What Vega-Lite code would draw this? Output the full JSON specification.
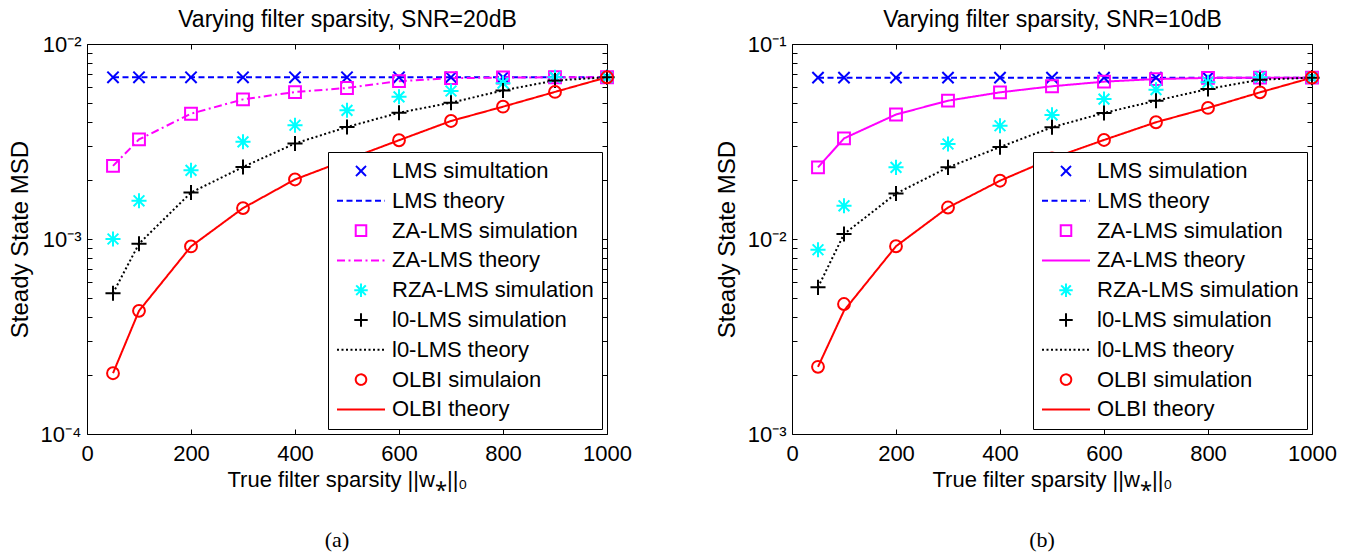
{
  "$schema": "https://vega.github.io/schema/vega-lite/v6.json",
  "background": "white",
  "padding": {"left": 8, "top": 8, "right": 5, "bottom": 5},
  "datasets": {
    "snr20": [
      {"series": "LMS simultation", "kind": "sim", "x": 50, "msd": 0.00675},
      {"series": "LMS simultation", "kind": "sim", "x": 100, "msd": 0.00675},
      {"series": "LMS simultation", "kind": "sim", "x": 200, "msd": 0.00675},
      {"series": "LMS simultation", "kind": "sim", "x": 300, "msd": 0.00675},
      {"series": "LMS simultation", "kind": "sim", "x": 400, "msd": 0.00675},
      {"series": "LMS simultation", "kind": "sim", "x": 500, "msd": 0.00675},
      {"series": "LMS simultation", "kind": "sim", "x": 600, "msd": 0.00675},
      {"series": "LMS simultation", "kind": "sim", "x": 700, "msd": 0.00675},
      {"series": "LMS simultation", "kind": "sim", "x": 800, "msd": 0.00675},
      {"series": "LMS simultation", "kind": "sim", "x": 900, "msd": 0.00675},
      {"series": "LMS simultation", "kind": "sim", "x": 1000, "msd": 0.00675},
      {"series": "LMS theory", "kind": "theory", "x": 50, "msd": 0.00675},
      {"series": "LMS theory", "kind": "theory", "x": 100, "msd": 0.00675},
      {"series": "LMS theory", "kind": "theory", "x": 200, "msd": 0.00675},
      {"series": "LMS theory", "kind": "theory", "x": 300, "msd": 0.00675},
      {"series": "LMS theory", "kind": "theory", "x": 400, "msd": 0.00675},
      {"series": "LMS theory", "kind": "theory", "x": 500, "msd": 0.00675},
      {"series": "LMS theory", "kind": "theory", "x": 600, "msd": 0.00675},
      {"series": "LMS theory", "kind": "theory", "x": 700, "msd": 0.00675},
      {"series": "LMS theory", "kind": "theory", "x": 800, "msd": 0.00675},
      {"series": "LMS theory", "kind": "theory", "x": 900, "msd": 0.00675},
      {"series": "LMS theory", "kind": "theory", "x": 1000, "msd": 0.00675},
      {"series": "ZA-LMS simulation", "kind": "sim", "x": 50, "msd": 0.00237},
      {"series": "ZA-LMS simulation", "kind": "sim", "x": 100, "msd": 0.00324},
      {"series": "ZA-LMS simulation", "kind": "sim", "x": 200, "msd": 0.00439},
      {"series": "ZA-LMS simulation", "kind": "sim", "x": 300, "msd": 0.0052},
      {"series": "ZA-LMS simulation", "kind": "sim", "x": 400, "msd": 0.00567},
      {"series": "ZA-LMS simulation", "kind": "sim", "x": 500, "msd": 0.00595},
      {"series": "ZA-LMS simulation", "kind": "sim", "x": 600, "msd": 0.00645},
      {"series": "ZA-LMS simulation", "kind": "sim", "x": 700, "msd": 0.00668},
      {"series": "ZA-LMS simulation", "kind": "sim", "x": 800, "msd": 0.00673},
      {"series": "ZA-LMS simulation", "kind": "sim", "x": 900, "msd": 0.00675},
      {"series": "ZA-LMS simulation", "kind": "sim", "x": 1000, "msd": 0.00675},
      {"series": "ZA-LMS theory", "kind": "theory", "x": 50, "msd": 0.00237},
      {"series": "ZA-LMS theory", "kind": "theory", "x": 100, "msd": 0.00324},
      {"series": "ZA-LMS theory", "kind": "theory", "x": 200, "msd": 0.00439},
      {"series": "ZA-LMS theory", "kind": "theory", "x": 300, "msd": 0.0052},
      {"series": "ZA-LMS theory", "kind": "theory", "x": 400, "msd": 0.00567},
      {"series": "ZA-LMS theory", "kind": "theory", "x": 500, "msd": 0.00595},
      {"series": "ZA-LMS theory", "kind": "theory", "x": 600, "msd": 0.00645},
      {"series": "ZA-LMS theory", "kind": "theory", "x": 700, "msd": 0.00668},
      {"series": "ZA-LMS theory", "kind": "theory", "x": 800, "msd": 0.00673},
      {"series": "ZA-LMS theory", "kind": "theory", "x": 900, "msd": 0.00675},
      {"series": "ZA-LMS theory", "kind": "theory", "x": 1000, "msd": 0.00675},
      {"series": "RZA-LMS simulation", "kind": "sim", "x": 50, "msd": 0.001},
      {"series": "RZA-LMS simulation", "kind": "sim", "x": 100, "msd": 0.00157},
      {"series": "RZA-LMS simulation", "kind": "sim", "x": 200, "msd": 0.00225},
      {"series": "RZA-LMS simulation", "kind": "sim", "x": 300, "msd": 0.00315},
      {"series": "RZA-LMS simulation", "kind": "sim", "x": 400, "msd": 0.00383},
      {"series": "RZA-LMS simulation", "kind": "sim", "x": 500, "msd": 0.00457},
      {"series": "RZA-LMS simulation", "kind": "sim", "x": 600, "msd": 0.00536},
      {"series": "RZA-LMS simulation", "kind": "sim", "x": 700, "msd": 0.00574},
      {"series": "RZA-LMS simulation", "kind": "sim", "x": 800, "msd": 0.0063},
      {"series": "RZA-LMS simulation", "kind": "sim", "x": 900, "msd": 0.00675},
      {"series": "RZA-LMS simulation", "kind": "sim", "x": 1000, "msd": 0.00675},
      {"series": "l0-LMS simulation", "kind": "sim", "x": 50, "msd": 0.000527},
      {"series": "l0-LMS simulation", "kind": "sim", "x": 100, "msd": 0.000946},
      {"series": "l0-LMS simulation", "kind": "sim", "x": 200, "msd": 0.00173},
      {"series": "l0-LMS simulation", "kind": "sim", "x": 300, "msd": 0.00234},
      {"series": "l0-LMS simulation", "kind": "sim", "x": 400, "msd": 0.00309},
      {"series": "l0-LMS simulation", "kind": "sim", "x": 500, "msd": 0.00375},
      {"series": "l0-LMS simulation", "kind": "sim", "x": 600, "msd": 0.00444},
      {"series": "l0-LMS simulation", "kind": "sim", "x": 700, "msd": 0.005},
      {"series": "l0-LMS simulation", "kind": "sim", "x": 800, "msd": 0.00578},
      {"series": "l0-LMS simulation", "kind": "sim", "x": 900, "msd": 0.0065},
      {"series": "l0-LMS simulation", "kind": "sim", "x": 1000, "msd": 0.00675},
      {"series": "l0-LMS theory", "kind": "theory", "x": 50, "msd": 0.000527},
      {"series": "l0-LMS theory", "kind": "theory", "x": 100, "msd": 0.000946},
      {"series": "l0-LMS theory", "kind": "theory", "x": 200, "msd": 0.00173},
      {"series": "l0-LMS theory", "kind": "theory", "x": 300, "msd": 0.00234},
      {"series": "l0-LMS theory", "kind": "theory", "x": 400, "msd": 0.00309},
      {"series": "l0-LMS theory", "kind": "theory", "x": 500, "msd": 0.00375},
      {"series": "l0-LMS theory", "kind": "theory", "x": 600, "msd": 0.00444},
      {"series": "l0-LMS theory", "kind": "theory", "x": 700, "msd": 0.005},
      {"series": "l0-LMS theory", "kind": "theory", "x": 800, "msd": 0.00578},
      {"series": "l0-LMS theory", "kind": "theory", "x": 900, "msd": 0.0065},
      {"series": "l0-LMS theory", "kind": "theory", "x": 1000, "msd": 0.00675},
      {"series": "OLBI simulaion", "kind": "sim", "x": 50, "msd": 0.000205},
      {"series": "OLBI simulaion", "kind": "sim", "x": 100, "msd": 0.000428},
      {"series": "OLBI simulaion", "kind": "sim", "x": 200, "msd": 0.000916},
      {"series": "OLBI simulaion", "kind": "sim", "x": 300, "msd": 0.00144},
      {"series": "OLBI simulaion", "kind": "sim", "x": 400, "msd": 0.00202},
      {"series": "OLBI simulaion", "kind": "sim", "x": 500, "msd": 0.00255},
      {"series": "OLBI simulaion", "kind": "sim", "x": 600, "msd": 0.00321},
      {"series": "OLBI simulaion", "kind": "sim", "x": 700, "msd": 0.00403},
      {"series": "OLBI simulaion", "kind": "sim", "x": 800, "msd": 0.00477},
      {"series": "OLBI simulaion", "kind": "sim", "x": 900, "msd": 0.00568},
      {"series": "OLBI simulaion", "kind": "sim", "x": 1000, "msd": 0.00675},
      {"series": "OLBI theory", "kind": "theory", "x": 50, "msd": 0.000205},
      {"series": "OLBI theory", "kind": "theory", "x": 100, "msd": 0.000428},
      {"series": "OLBI theory", "kind": "theory", "x": 200, "msd": 0.000916},
      {"series": "OLBI theory", "kind": "theory", "x": 300, "msd": 0.00144},
      {"series": "OLBI theory", "kind": "theory", "x": 400, "msd": 0.00202},
      {"series": "OLBI theory", "kind": "theory", "x": 500, "msd": 0.00255},
      {"series": "OLBI theory", "kind": "theory", "x": 600, "msd": 0.00321},
      {"series": "OLBI theory", "kind": "theory", "x": 700, "msd": 0.00403},
      {"series": "OLBI theory", "kind": "theory", "x": 800, "msd": 0.00477},
      {"series": "OLBI theory", "kind": "theory", "x": 900, "msd": 0.00568},
      {"series": "OLBI theory", "kind": "theory", "x": 1000, "msd": 0.00675}
    ],
    "snr10": [
      {"series": "LMS simulation", "kind": "sim", "x": 50, "msd": 0.0672},
      {"series": "LMS simulation", "kind": "sim", "x": 100, "msd": 0.0672},
      {"series": "LMS simulation", "kind": "sim", "x": 200, "msd": 0.0672},
      {"series": "LMS simulation", "kind": "sim", "x": 300, "msd": 0.0672},
      {"series": "LMS simulation", "kind": "sim", "x": 400, "msd": 0.0672},
      {"series": "LMS simulation", "kind": "sim", "x": 500, "msd": 0.0672},
      {"series": "LMS simulation", "kind": "sim", "x": 600, "msd": 0.0672},
      {"series": "LMS simulation", "kind": "sim", "x": 700, "msd": 0.0672},
      {"series": "LMS simulation", "kind": "sim", "x": 800, "msd": 0.0672},
      {"series": "LMS simulation", "kind": "sim", "x": 900, "msd": 0.0672},
      {"series": "LMS simulation", "kind": "sim", "x": 1000, "msd": 0.0672},
      {"series": "LMS theory", "kind": "theory", "x": 50, "msd": 0.0672},
      {"series": "LMS theory", "kind": "theory", "x": 100, "msd": 0.0672},
      {"series": "LMS theory", "kind": "theory", "x": 200, "msd": 0.0672},
      {"series": "LMS theory", "kind": "theory", "x": 300, "msd": 0.0672},
      {"series": "LMS theory", "kind": "theory", "x": 400, "msd": 0.0672},
      {"series": "LMS theory", "kind": "theory", "x": 500, "msd": 0.0672},
      {"series": "LMS theory", "kind": "theory", "x": 600, "msd": 0.0672},
      {"series": "LMS theory", "kind": "theory", "x": 700, "msd": 0.0672},
      {"series": "LMS theory", "kind": "theory", "x": 800, "msd": 0.0672},
      {"series": "LMS theory", "kind": "theory", "x": 900, "msd": 0.0672},
      {"series": "LMS theory", "kind": "theory", "x": 1000, "msd": 0.0672},
      {"series": "ZA-LMS simulation", "kind": "sim", "x": 50, "msd": 0.0233},
      {"series": "ZA-LMS simulation", "kind": "sim", "x": 100, "msd": 0.0328},
      {"series": "ZA-LMS simulation", "kind": "sim", "x": 200, "msd": 0.0435},
      {"series": "ZA-LMS simulation", "kind": "sim", "x": 300, "msd": 0.0512},
      {"series": "ZA-LMS simulation", "kind": "sim", "x": 400, "msd": 0.0565},
      {"series": "ZA-LMS simulation", "kind": "sim", "x": 500, "msd": 0.0607},
      {"series": "ZA-LMS simulation", "kind": "sim", "x": 600, "msd": 0.0641},
      {"series": "ZA-LMS simulation", "kind": "sim", "x": 700, "msd": 0.0661},
      {"series": "ZA-LMS simulation", "kind": "sim", "x": 800, "msd": 0.067},
      {"series": "ZA-LMS simulation", "kind": "sim", "x": 900, "msd": 0.0672},
      {"series": "ZA-LMS simulation", "kind": "sim", "x": 1000, "msd": 0.0672},
      {"series": "ZA-LMS theory", "kind": "theory", "x": 50, "msd": 0.0233},
      {"series": "ZA-LMS theory", "kind": "theory", "x": 100, "msd": 0.0328},
      {"series": "ZA-LMS theory", "kind": "theory", "x": 200, "msd": 0.0435},
      {"series": "ZA-LMS theory", "kind": "theory", "x": 300, "msd": 0.0512},
      {"series": "ZA-LMS theory", "kind": "theory", "x": 400, "msd": 0.0565},
      {"series": "ZA-LMS theory", "kind": "theory", "x": 500, "msd": 0.0607},
      {"series": "ZA-LMS theory", "kind": "theory", "x": 600, "msd": 0.0641},
      {"series": "ZA-LMS theory", "kind": "theory", "x": 700, "msd": 0.0661},
      {"series": "ZA-LMS theory", "kind": "theory", "x": 800, "msd": 0.067},
      {"series": "ZA-LMS theory", "kind": "theory", "x": 900, "msd": 0.0672},
      {"series": "ZA-LMS theory", "kind": "theory", "x": 1000, "msd": 0.0672},
      {"series": "RZA-LMS simulation", "kind": "sim", "x": 50, "msd": 0.00881},
      {"series": "RZA-LMS simulation", "kind": "sim", "x": 100, "msd": 0.0148},
      {"series": "RZA-LMS simulation", "kind": "sim", "x": 200, "msd": 0.0233},
      {"series": "RZA-LMS simulation", "kind": "sim", "x": 300, "msd": 0.0307},
      {"series": "RZA-LMS simulation", "kind": "sim", "x": 400, "msd": 0.0381},
      {"series": "RZA-LMS simulation", "kind": "sim", "x": 500, "msd": 0.0433},
      {"series": "RZA-LMS simulation", "kind": "sim", "x": 600, "msd": 0.0522},
      {"series": "RZA-LMS simulation", "kind": "sim", "x": 700, "msd": 0.0583},
      {"series": "RZA-LMS simulation", "kind": "sim", "x": 800, "msd": 0.0636},
      {"series": "RZA-LMS simulation", "kind": "sim", "x": 900, "msd": 0.0675},
      {"series": "RZA-LMS simulation", "kind": "sim", "x": 1000, "msd": 0.0672},
      {"series": "l0-LMS simulation", "kind": "sim", "x": 50, "msd": 0.00565},
      {"series": "l0-LMS simulation", "kind": "sim", "x": 100, "msd": 0.0106},
      {"series": "l0-LMS simulation", "kind": "sim", "x": 200, "msd": 0.0171},
      {"series": "l0-LMS simulation", "kind": "sim", "x": 300, "msd": 0.0233},
      {"series": "l0-LMS simulation", "kind": "sim", "x": 400, "msd": 0.0296},
      {"series": "l0-LMS simulation", "kind": "sim", "x": 500, "msd": 0.0374},
      {"series": "l0-LMS simulation", "kind": "sim", "x": 600, "msd": 0.0443},
      {"series": "l0-LMS simulation", "kind": "sim", "x": 700, "msd": 0.0512},
      {"series": "l0-LMS simulation", "kind": "sim", "x": 800, "msd": 0.0588},
      {"series": "l0-LMS simulation", "kind": "sim", "x": 900, "msd": 0.0656},
      {"series": "l0-LMS simulation", "kind": "sim", "x": 1000, "msd": 0.0672},
      {"series": "l0-LMS theory", "kind": "theory", "x": 50, "msd": 0.00565},
      {"series": "l0-LMS theory", "kind": "theory", "x": 100, "msd": 0.0106},
      {"series": "l0-LMS theory", "kind": "theory", "x": 200, "msd": 0.0171},
      {"series": "l0-LMS theory", "kind": "theory", "x": 300, "msd": 0.0233},
      {"series": "l0-LMS theory", "kind": "theory", "x": 400, "msd": 0.0296},
      {"series": "l0-LMS theory", "kind": "theory", "x": 500, "msd": 0.0374},
      {"series": "l0-LMS theory", "kind": "theory", "x": 600, "msd": 0.0443},
      {"series": "l0-LMS theory", "kind": "theory", "x": 700, "msd": 0.0512},
      {"series": "l0-LMS theory", "kind": "theory", "x": 800, "msd": 0.0588},
      {"series": "l0-LMS theory", "kind": "theory", "x": 900, "msd": 0.0656},
      {"series": "l0-LMS theory", "kind": "theory", "x": 1000, "msd": 0.0672},
      {"series": "OLBI simulation", "kind": "sim", "x": 50, "msd": 0.00221},
      {"series": "OLBI simulation", "kind": "sim", "x": 100, "msd": 0.00464},
      {"series": "OLBI simulation", "kind": "sim", "x": 200, "msd": 0.00918},
      {"series": "OLBI simulation", "kind": "sim", "x": 300, "msd": 0.0145},
      {"series": "OLBI simulation", "kind": "sim", "x": 400, "msd": 0.0199},
      {"series": "OLBI simulation", "kind": "sim", "x": 500, "msd": 0.0259},
      {"series": "OLBI simulation", "kind": "sim", "x": 600, "msd": 0.0322},
      {"series": "OLBI simulation", "kind": "sim", "x": 700, "msd": 0.0397},
      {"series": "OLBI simulation", "kind": "sim", "x": 800, "msd": 0.047},
      {"series": "OLBI simulation", "kind": "sim", "x": 900, "msd": 0.0565},
      {"series": "OLBI simulation", "kind": "sim", "x": 1000, "msd": 0.0672},
      {"series": "OLBI theory", "kind": "theory", "x": 50, "msd": 0.00221},
      {"series": "OLBI theory", "kind": "theory", "x": 100, "msd": 0.00429},
      {"series": "OLBI theory", "kind": "theory", "x": 200, "msd": 0.00918},
      {"series": "OLBI theory", "kind": "theory", "x": 300, "msd": 0.0145},
      {"series": "OLBI theory", "kind": "theory", "x": 400, "msd": 0.0199},
      {"series": "OLBI theory", "kind": "theory", "x": 500, "msd": 0.0259},
      {"series": "OLBI theory", "kind": "theory", "x": 600, "msd": 0.0322},
      {"series": "OLBI theory", "kind": "theory", "x": 700, "msd": 0.0397},
      {"series": "OLBI theory", "kind": "theory", "x": 800, "msd": 0.047},
      {"series": "OLBI theory", "kind": "theory", "x": 900, "msd": 0.0565},
      {"series": "OLBI theory", "kind": "theory", "x": 1000, "msd": 0.0672}
    ]
  },
  "hconcat": [
    {
      "width": 520,
      "height": 390,
      "data": {"name": "snr20"},
      "title": {"text": "(a)", "orient": "bottom", "font": "Liberation Serif", "fontSize": 22, "fontWeight": "normal", "color": "black", "offset": 40, "frame": "group", "anchor": "middle", "dx": -10},
      "layer": [
        {
          "transform": [{"filter": "datum.kind === 'theory'"}],
          "mark": {"type": "line", "strokeWidth": 2},
          "encoding": {
            "x": {"field": "x", "type": "quantitative", "scale": {"domain": [0, 1000], "nice": false},
              "axis": {"orient": "bottom", "values": [0, 200, 400, 600, 800, 1000], "format": "d", "tickSize": -5, "labelPadding": 14, "title": "True filter sparsity ||w⁎||₀", "titlePadding": 5}},
            "y": {"field": "msd", "type": "quantitative", "scale": {"type": "log", "domain": [0.0001, 0.01], "nice": false},
              "axis": {"orient": "left", "values": [0.0001, 0.0002, 0.0003, 0.0004, 0.0005, 0.0006, 0.0007, 0.0008, 0.0009, 0.001, 0.002, 0.003, 0.004, 0.005, 0.006, 0.007, 0.008, 0.009, 0.01],
                "labelExpr": "abs(log(datum.value)/LN10 - round(log(datum.value)/LN10)) < 0.01 ? ('10' + (round(log(datum.value)/LN10) == -1 ? '⁻¹' : round(log(datum.value)/LN10) == -2 ? '⁻²' : round(log(datum.value)/LN10) == -3 ? '⁻³' : '⁻⁴')) : ''",
                "tickSize": -5, "labelPadding": 11, "title": "Steady State MSD", "titleFontSize": 24, "titlePadding": 8}},
            "color": {"field": "series", "type": "nominal",
              "scale": {"domain": ["LMS simultation", "LMS theory", "ZA-LMS simulation", "ZA-LMS theory", "RZA-LMS simulation", "l0-LMS simulation", "l0-LMS theory", "OLBI simulaion", "OLBI theory"],
                "range": ["#0000ff", "#0000ff", "#ff00ff", "#ff00ff", "#00ffff", "#000000", "#000000", "#ff0000", "#ff0000"]}},
            "strokeDash": {"field": "series", "type": "nominal",
              "scale": {"domain": ["LMS simultation", "LMS theory", "ZA-LMS simulation", "ZA-LMS theory", "RZA-LMS simulation", "l0-LMS simulation", "l0-LMS theory", "OLBI simulaion", "OLBI theory"],
                "range": [[1, 0], [6, 3.5], [1, 0], [8, 3.5, 2, 3.5], [1, 0], [1, 0], [2, 2.5], [1, 0], [1, 0]]}}
          }
        },
        {
          "transform": [{"filter": "datum.kind === 'sim'"}],
          "mark": {"type": "point", "filled": false, "strokeWidth": 2, "size": 2900, "opacity": 1},
          "encoding": {
            "x": {"field": "x", "type": "quantitative", "scale": {"domain": [0, 1000], "nice": false},
              "axis": {"orient": "top", "values": [0, 200, 400, 600, 800, 1000], "labels": false, "tickSize": -5, "title": "Varying filter sparsity, SNR=20dB", "titleFontSize": 23, "titlePadding": 12}},
            "y": {"field": "msd", "type": "quantitative", "scale": {"type": "log", "domain": [0.0001, 0.01], "nice": false},
              "axis": {"orient": "right", "values": [0.0001, 0.0002, 0.0003, 0.0004, 0.0005, 0.0006, 0.0007, 0.0008, 0.0009, 0.001, 0.002, 0.003, 0.004, 0.005, 0.006, 0.007, 0.008, 0.009, 0.01], "labels": false, "tickSize": -5, "title": null}},
            "color": {"field": "series", "type": "nominal",
              "scale": {"domain": ["LMS simultation", "LMS theory", "ZA-LMS simulation", "ZA-LMS theory", "RZA-LMS simulation", "l0-LMS simulation", "l0-LMS theory", "OLBI simulaion", "OLBI theory"],
                "range": ["#0000ff", "#0000ff", "#ff00ff", "#ff00ff", "#00ffff", "#000000", "#000000", "#ff0000", "#ff0000"]}},
            "shape": {"field": "series", "type": "nominal",
              "scale": {"domain": ["LMS simultation", "LMS theory", "ZA-LMS simulation", "ZA-LMS theory", "RZA-LMS simulation", "l0-LMS simulation", "l0-LMS theory", "OLBI simulaion", "OLBI theory"],
                "range": ["M-0.21,-0.21L0.21,0.21M-0.21,0.21L0.21,-0.21", "stroke", "M-0.22,-0.22H0.22V0.22H-0.22Z", "stroke", "M-0.28,0H0.28M0,-0.28V0.28M-0.2,-0.2L0.2,0.2M-0.2,0.2L0.2,-0.2", "M-0.28,0H0.28M0,-0.28V0.28", "stroke", "M0.22,0A0.22,0.22,0,1,1,-0.22,0A0.22,0.22,0,1,1,0.22,0Z", "stroke"]}}
          }
        }
      ],
      "resolve": {"axis": {"x": "independent", "y": "independent"}}
    },
    {
      "width": 520,
      "height": 390,
      "data": {"name": "snr10"},
      "title": {"text": "(b)", "orient": "bottom", "font": "Liberation Serif", "fontSize": 22, "fontWeight": "normal", "color": "black", "offset": 40, "frame": "group", "anchor": "middle", "dx": -10},
      "layer": [
        {
          "transform": [{"filter": "datum.kind === 'theory'"}],
          "mark": {"type": "line", "strokeWidth": 2},
          "encoding": {
            "x": {"field": "x", "type": "quantitative", "scale": {"domain": [0, 1000], "nice": false},
              "axis": {"orient": "bottom", "values": [0, 200, 400, 600, 800, 1000], "format": "d", "tickSize": -5, "labelPadding": 14, "title": "True filter sparsity ||w⁎||₀", "titlePadding": 5}},
            "y": {"field": "msd", "type": "quantitative", "scale": {"type": "log", "domain": [0.001, 0.1], "nice": false},
              "axis": {"orient": "left", "values": [0.001, 0.002, 0.003, 0.004, 0.005, 0.006, 0.007, 0.008, 0.009, 0.01, 0.02, 0.03, 0.04, 0.05, 0.06, 0.07, 0.08, 0.09, 0.1],
                "labelExpr": "abs(log(datum.value)/LN10 - round(log(datum.value)/LN10)) < 0.01 ? ('10' + (round(log(datum.value)/LN10) == -1 ? '⁻¹' : round(log(datum.value)/LN10) == -2 ? '⁻²' : round(log(datum.value)/LN10) == -3 ? '⁻³' : '⁻⁴')) : ''",
                "tickSize": -5, "labelPadding": 11, "title": "Steady State MSD", "titleFontSize": 24, "titlePadding": 8}},
            "color": {"field": "series", "type": "nominal",
              "scale": {"domain": ["LMS simulation", "LMS theory", "ZA-LMS simulation", "ZA-LMS theory", "RZA-LMS simulation", "l0-LMS simulation", "l0-LMS theory", "OLBI simulation", "OLBI theory"],
                "range": ["#0000ff", "#0000ff", "#ff00ff", "#ff00ff", "#00ffff", "#000000", "#000000", "#ff0000", "#ff0000"]}},
            "strokeDash": {"field": "series", "type": "nominal",
              "scale": {"domain": ["LMS simulation", "LMS theory", "ZA-LMS simulation", "ZA-LMS theory", "RZA-LMS simulation", "l0-LMS simulation", "l0-LMS theory", "OLBI simulation", "OLBI theory"],
                "range": [[1, 0], [6, 3.5], [1, 0], [1, 0], [1, 0], [1, 0], [2, 2.5], [1, 0], [1, 0]]}}
          }
        },
        {
          "transform": [{"filter": "datum.kind === 'sim'"}],
          "mark": {"type": "point", "filled": false, "strokeWidth": 2, "size": 2900, "opacity": 1},
          "encoding": {
            "x": {"field": "x", "type": "quantitative", "scale": {"domain": [0, 1000], "nice": false},
              "axis": {"orient": "top", "values": [0, 200, 400, 600, 800, 1000], "labels": false, "tickSize": -5, "title": "Varying filter sparsity, SNR=10dB", "titleFontSize": 23, "titlePadding": 12}},
            "y": {"field": "msd", "type": "quantitative", "scale": {"type": "log", "domain": [0.001, 0.1], "nice": false},
              "axis": {"orient": "right", "values": [0.001, 0.002, 0.003, 0.004, 0.005, 0.006, 0.007, 0.008, 0.009, 0.01, 0.02, 0.03, 0.04, 0.05, 0.06, 0.07, 0.08, 0.09, 0.1], "labels": false, "tickSize": -5, "title": null}},
            "color": {"field": "series", "type": "nominal",
              "scale": {"domain": ["LMS simulation", "LMS theory", "ZA-LMS simulation", "ZA-LMS theory", "RZA-LMS simulation", "l0-LMS simulation", "l0-LMS theory", "OLBI simulation", "OLBI theory"],
                "range": ["#0000ff", "#0000ff", "#ff00ff", "#ff00ff", "#00ffff", "#000000", "#000000", "#ff0000", "#ff0000"]}},
            "shape": {"field": "series", "type": "nominal",
              "scale": {"domain": ["LMS simulation", "LMS theory", "ZA-LMS simulation", "ZA-LMS theory", "RZA-LMS simulation", "l0-LMS simulation", "l0-LMS theory", "OLBI simulation", "OLBI theory"],
                "range": ["M-0.21,-0.21L0.21,0.21M-0.21,0.21L0.21,-0.21", "stroke", "M-0.22,-0.22H0.22V0.22H-0.22Z", "stroke", "M-0.28,0H0.28M0,-0.28V0.28M-0.2,-0.2L0.2,0.2M-0.2,0.2L0.2,-0.2", "M-0.28,0H0.28M0,-0.28V0.28", "stroke", "M0.22,0A0.22,0.22,0,1,1,-0.22,0A0.22,0.22,0,1,1,0.22,0Z", "stroke"]}}
          }
        }
      ],
      "resolve": {"axis": {"x": "independent", "y": "independent"}}
    }
  ],
  "spacing": 83,
  "resolve": {
    "scale": {"color": "independent", "shape": "independent", "strokeDash": "independent"},
    "legend": {"color": "independent", "shape": "independent", "strokeDash": "independent"}
  },
  "config": {
    "font": "Liberation Sans",
    "view": {"stroke": null},
    "axis": {"grid": false, "domainColor": "black", "domainWidth": 1, "tickColor": "black", "tickWidth": 1, "labelColor": "black", "titleColor": "black", "labelFontSize": 22, "titleFontSize": 22, "titleFontWeight": "normal", "labelFont": "Liberation Sans", "titleFont": "Liberation Sans", "labelFlush": false, "labelOverlap": false},
    "legend": {"orient": "bottom-right", "offset": 5, "title": null, "padding": 8, "strokeColor": "black", "fillColor": "white", "labelFont": "Liberation Sans", "labelFontSize": 22, "labelColor": "black", "labelLimit": 400, "labelOffset": 6, "symbolSize": 2304, "symbolStrokeWidth": 2, "symbolOpacity": 1, "clipHeight": 22, "rowPadding": 7.8, "symbolType": "stroke", "symbolFillColor": "transparent"}
  }
}
